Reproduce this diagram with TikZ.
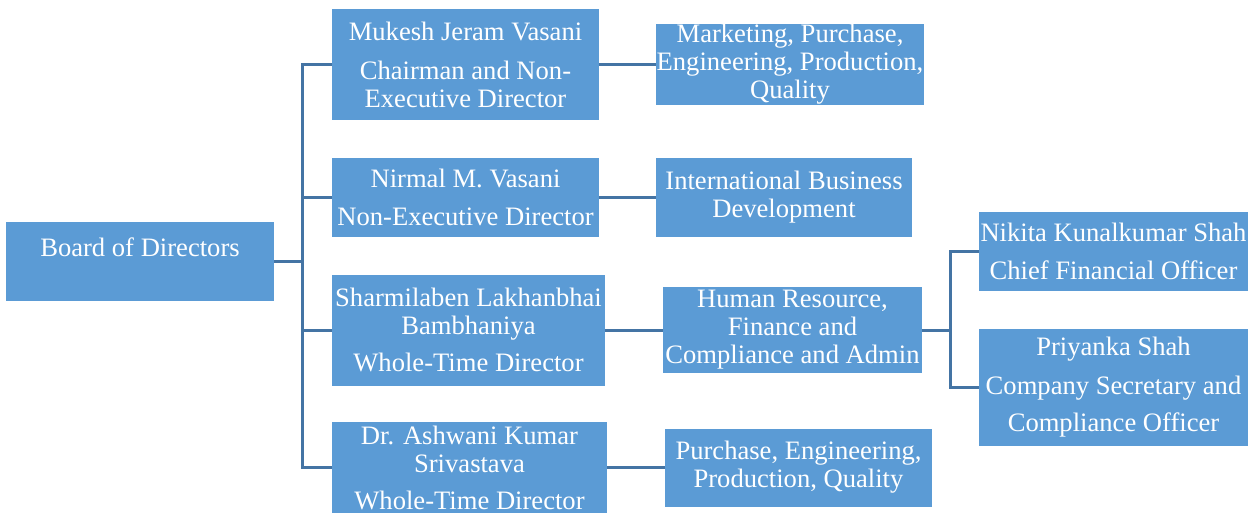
\documentclass[tikz,border=0pt]{standalone}
\usepackage{fontspec}
\setmainfont{Liberation Serif}

\definecolor{boxblue}{RGB}{91,155,213}
\definecolor{linkblue}{RGB}{68,116,164}

\tikzstyle{link} = [line width=1.5pt, draw=linkblue]
\tikzstyle{box} = [
        rectangle,
        inner sep=0pt,
        align=center,
        text=white,
        fill=boxblue,
        font=\fontsize{13.3}{14}\selectfont
    ]

\begin{document}
\begin{tikzpicture}[x=0.5pt, y=-0.5pt]
        \useasboundingbox (0,0) rectangle (1254,514);

        \node (board) [%
            box,%
            minimum width=134pt, minimum height=39.5pt
            ] at (140,261.5) {Board of Directors\\~};

        % directors
        \node (mukesh) [%
            box,%
            minimum width=133.5pt, minimum height=55.5pt
            ] at (465.5,64.5) {Mukesh Jeram Vasani\\[5.5pt]Chairman and Non-\\Executive Director};

        \node (nirmal) [%
            box,%
            minimum width=133.5pt, minimum height=39.5pt
            ] at (465.5,197.5) {Nirmal M. Vasani\\[5pt]Non-Executive Director};

        \node (sharmila) [%
            box,%
            minimum width=136.5pt, minimum height=55.5pt
            ] at (468.5,330) {Sharmilaben Lakhanbhai\\Bambhaniya\\[4.5pt]Whole-Time Director};

        \node (ashwani) [%
            box,%
            minimum width=137.5pt, minimum height=45.5pt
            ] at (469.5,467.5) {Dr. Ashwani Kumar\\Srivastava\\[4.5pt]Whole-Time Director};

        % departments
        \node (marketing) [%
            box,%
            minimum width=134pt, minimum height=39.5pt
            ] at (790,64.5) {Marketing, Purchase,\\Engineering, Production,\\Quality};

        \node (international) [%
            box,%
            minimum width=128pt, minimum height=39.5pt
            ] at (784,197.5) {International Business\\Development};

        \node (hr) [%
            box,%
            minimum width=129.5pt, minimum height=43pt
            ] at (792.5,330) {Human Resource,\\Finance and\\Compliance and Admin};

        \node (purchase) [%
            box,%
            minimum width=133.5pt, minimum height=39pt
            ] at (798.5,467.5) {Purchase, Engineering,\\Production, Quality};

        % officers
        \node (nikita) [%
            box,%
            minimum width=134.5pt, minimum height=39.5pt
            ] at (1113.5,251.5) {Nikita Kunalkumar Shah\\[5pt]Chief Financial Officer};

        \node (priyanka) [%
            box,%
            minimum width=134.5pt, minimum height=58.5pt
            ] at (1113.5,387.5) {Priyanka Shah\\[5.5pt]Company Secretary and\\[4.5pt]Compliance Officer};

        \coordinate (fork) at (302,261.5);
        \coordinate (hrfork) at (950,330);

        \draw [link] (board.east) -- (fork);
        \draw [link] (fork) |- (mukesh.west);
        \draw [link] (fork) |- (nirmal.west);
        \draw [link] (fork) |- (sharmila.west);
        \draw [link] (fork) |- (ashwani.west);
        \draw [link] (mukesh) -- (marketing);
        \draw [link] (nirmal) -- (international);
        \draw [link] (sharmila) -- (hr);
        \draw [link] (ashwani) -- (purchase);
        \draw [link] (hr.east) -- (hrfork);
        \draw [link] (hrfork) |- (nikita.west);
        \draw [link] (hrfork) |- (priyanka.west);

    \end{tikzpicture}
\end{document}
